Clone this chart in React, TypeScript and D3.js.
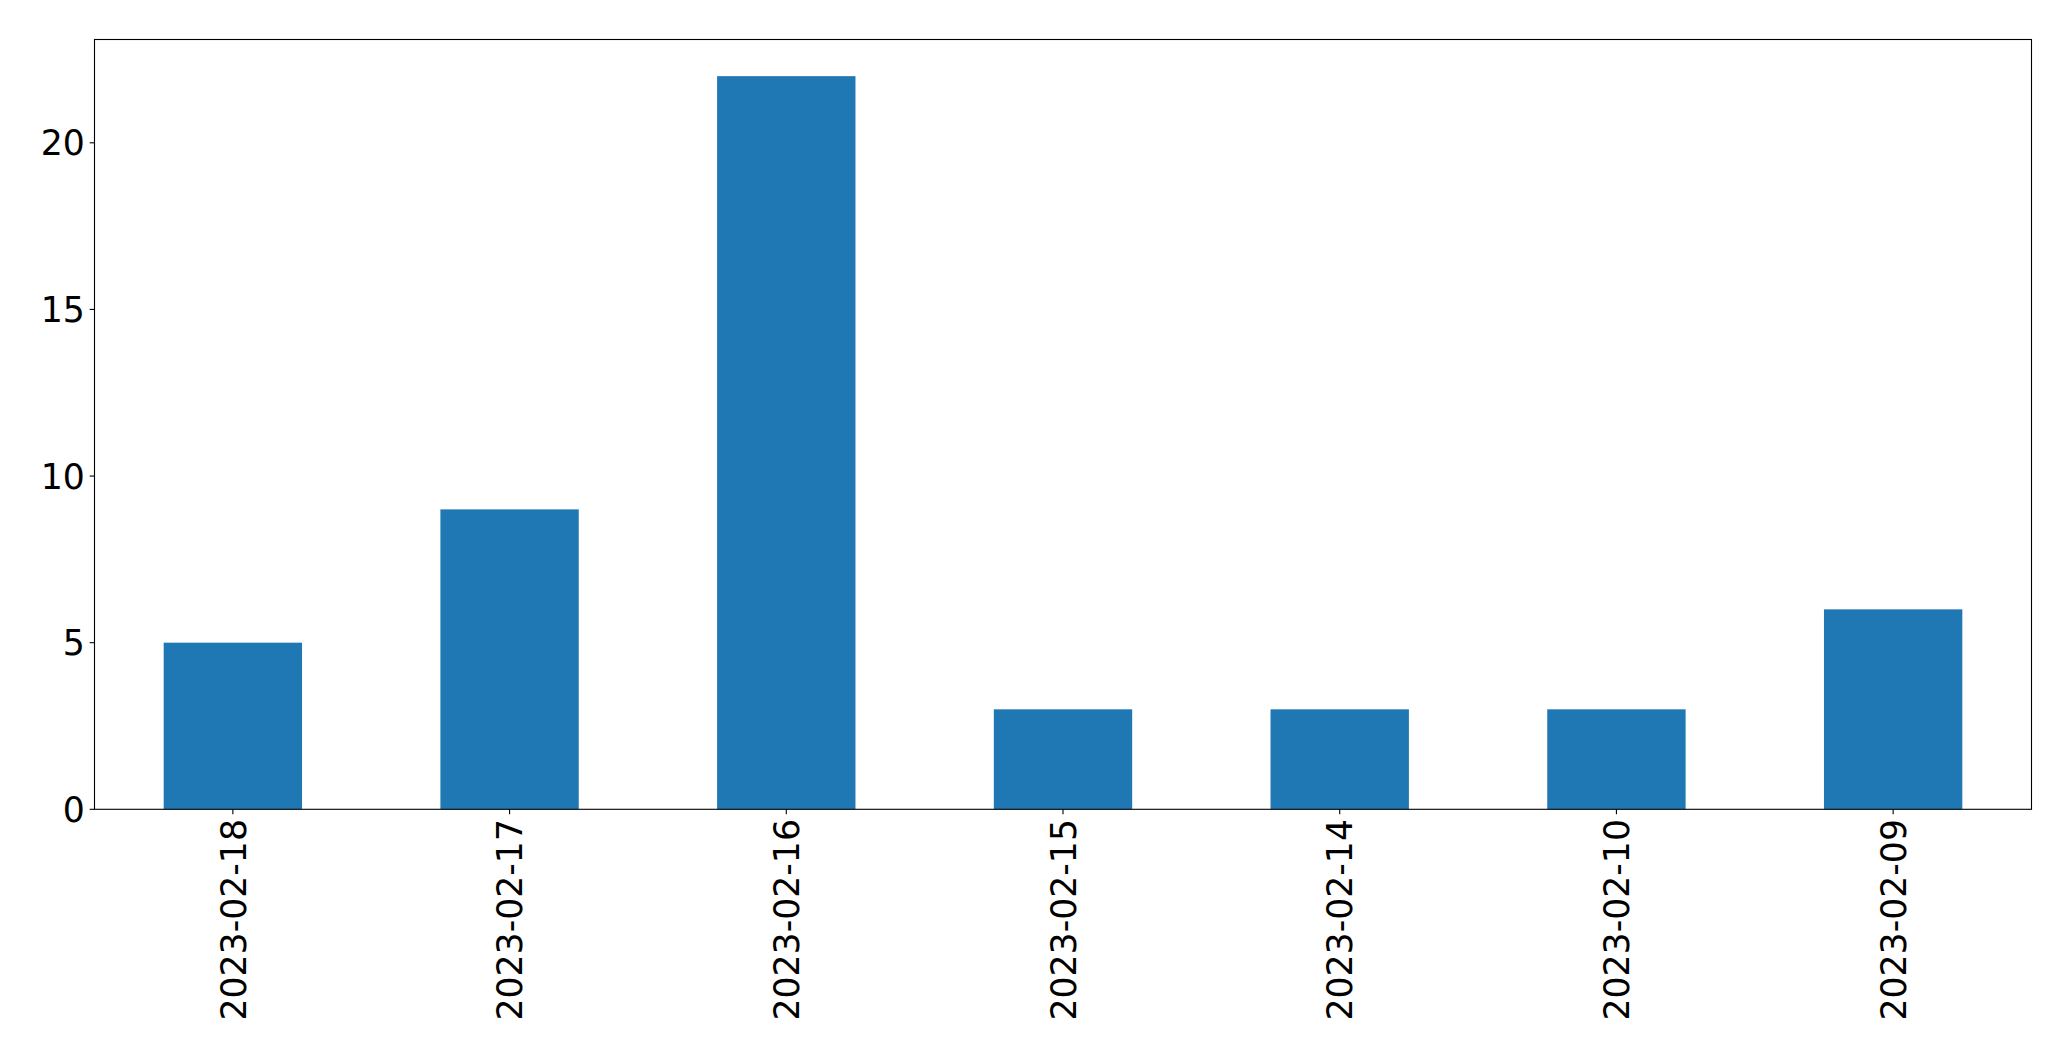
import React from "react";
import * as d3 from "d3";

const categories = ["2023-02-18", "2023-02-17", "2023-02-16", "2023-02-15", "2023-02-14", "2023-02-10", "2023-02-09"];
const values = [5, 9, 22, 3, 3, 3, 6];
const yTicks = [0, 5, 10, 15, 20];

const W = 2071;
const H = 1061;
const M = { left: 94.5, right: 2031.5, top: 39.5, bottom: 809.3 };
const FONT = 34.7;
const TICK = 4.86;
const PAD = 4.86;

export default function App() {
  const x = d3.scaleBand<string>().domain(categories).range([M.left, M.right]).paddingInner(0.5).paddingOuter(0.25);
  const y = d3.scaleLinear().domain([0, d3.max(values)! * 1.05]).range([M.bottom, M.top]);
  return (
    <svg width={W} height={H} style={{ position: "absolute", left: 0, top: 0, background: "#fff" }} fontFamily="DejaVu Sans" >
      <rect x={0} y={0} width={W} height={H} fill="#fff" />
      {categories.map((c, i) => (
        <rect key={c} x={x(c)} y={y(values[i])} width={x.bandwidth()} height={y(0) - y(values[i])} fill="#1f77b4" />
      ))}
      <rect x={M.left} y={M.top} width={M.right - M.left} height={M.bottom - M.top} fill="none" stroke="#000" strokeWidth={1.1} />
      {yTicks.map((t) => (
        <g key={t}>
          <line x1={M.left - TICK} x2={M.left} y1={y(t)} y2={y(t)} stroke="#000" strokeWidth={1.1} />
          <text x={M.left - TICK - PAD} y={y(t) + 0.3645 * FONT} textAnchor="end" fontSize={FONT} fill="#000">{t}</text>
        </g>
      ))}
      {categories.map((c) => {
        const cx = x(c)! + x.bandwidth() / 2;
        return (
          <g key={c}>
            <line x1={cx} x2={cx} y1={M.bottom} y2={M.bottom + TICK} stroke="#000" strokeWidth={1.1} />
            <text transform={`translate(${cx},${M.bottom + TICK + PAD}) rotate(-90)`} x={0} y={0.3645 * FONT} textAnchor="end" fontSize={FONT} fill="#000">{c}</text>
          </g>
        );
      })}
    </svg>
  );
}
